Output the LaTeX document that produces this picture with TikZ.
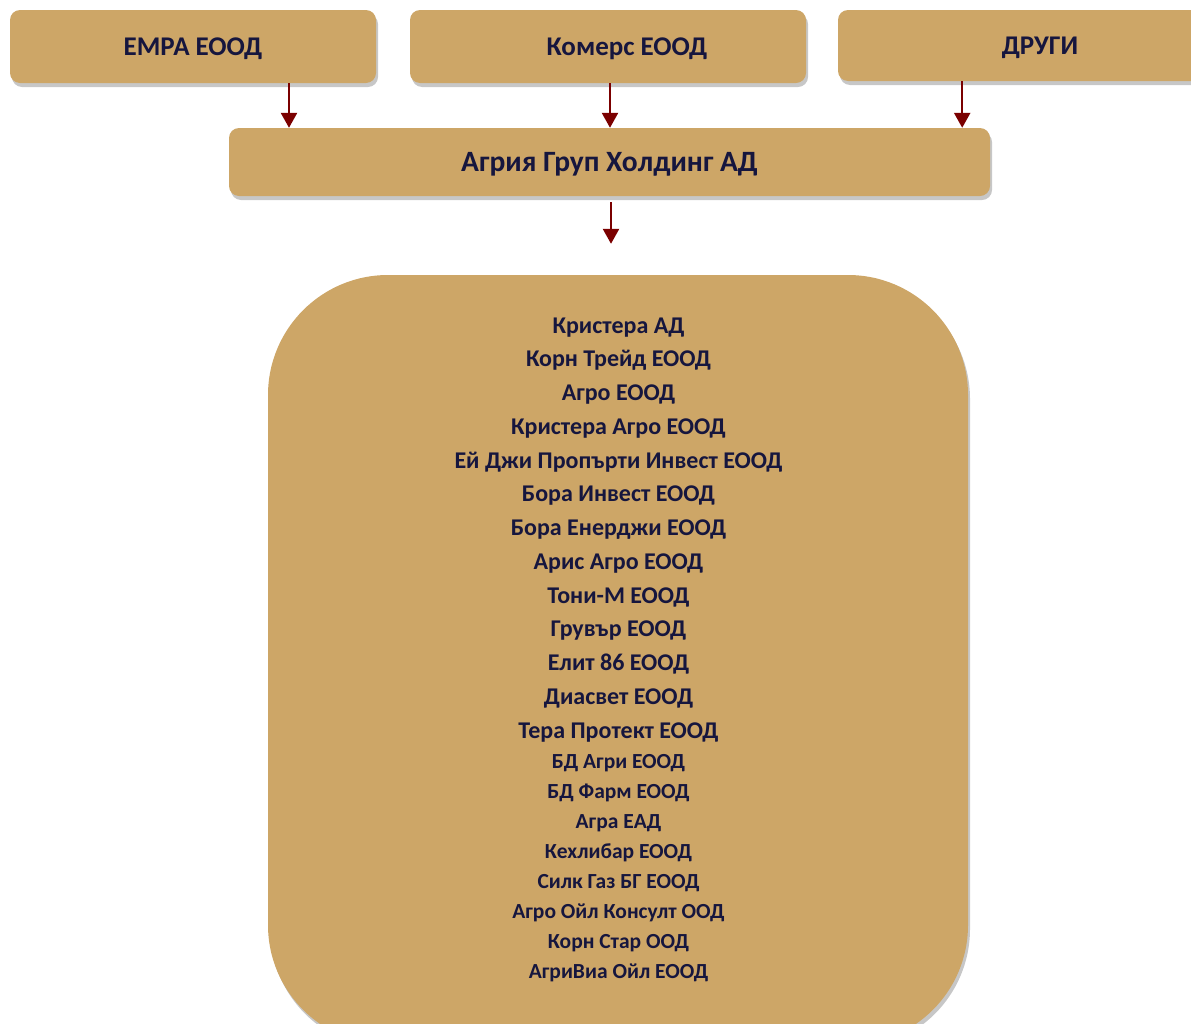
\documentclass[tikz,border=0pt]{standalone}
\usepackage{fontspec}
\setmainfont{Carlito}
\usetikzlibrary{arrows.meta,shadows}
\definecolor{boxfill}{HTML}{CDA667}
\definecolor{navy}{HTML}{16163E}
\definecolor{arrowred}{HTML}{7B0000}

\begin{document}
\begin{tikzpicture}[x=1pt, y=-1pt]
    \tikzset{box/.style={fill=boxfill, rounded corners=10pt, inner sep=0pt, text=navy, text depth=0pt, anchor=center, drop shadow={shadow xshift=2pt, shadow yshift=-4pt, fill=black, opacity=0.22}}}
    \tikzset{topbox/.style={box, minimum height=73pt, text height=17pt, font=\bfseries\fontsize{27}{32}\selectfont}}
    \tikzset{firm/.style={text=navy, anchor=base, inner sep=0pt, font=\bfseries\fontsize{24}{28}\selectfont}}
    \tikzset{smallfirm/.style={firm, font=\bfseries\fontsize{21.5}{26}\selectfont}}
    \tikzset{flow/.style={draw=arrowred, line width=2.5pt, -{Triangle[width=16pt, length=15pt]}}}
    \useasboundingbox (0,0) rectangle (1191,1023);

    \node[topbox, minimum width=366pt] (emra) at (193,46.5) {ЕМРА ЕООД};
    \node[topbox, minimum width=396pt] (komers) at (608,46.5) {\hspace*{38pt}Комерс ЕООД};
    \node[topbox, minimum width=404pt, minimum height=71pt] (drugi) at (1040,45.5) {ДРУГИ};
    \node[box, minimum width=761pt, minimum height=68pt, text height=18pt, font=\bfseries\fontsize{29.5}{34}\selectfont] (holding) at (609.5,162) {Агрия Груп Холдинг АД};
    \node[box, rounded corners=120pt, minimum width=700pt, minimum height=770pt] (group) at (618,660) {};

    \draw[flow] ([xshift=96pt]emra.south) -- ([xshift=96pt]emra.south |- holding.north);
    \draw[flow] ([xshift=2pt]komers.south) -- ([xshift=2pt]komers.south |- holding.north);
    \draw[flow] ([xshift=-28pt]holding.north east |- drugi.south) -- ([xshift=-28pt]holding.north east);
    \draw[flow, shorten <=6pt, shorten >=31pt] ([xshift=1.5pt]holding.south) -- ([xshift=1.5pt]holding.south |- group.north);

    % companies of the group
    \foreach \firmname [count=\i from 0] in {Кристера АД, Корн Трейд ЕООД, Агро ЕООД, Кристера Агро ЕООД, Ей Джи Пропърти Инвест ЕООД, Бора Инвест ЕООД, Бора Енерджи ЕООД, Арис Агро ЕООД, Тони-М ЕООД, Грувър ЕООД, Елит 86 ЕООД, Диасвет ЕООД, Тера Протект ЕООД}{
        \node[firm] (firm\i) at (618.5,333+33.75*\i) {\firmname};
    }
    \foreach \firmname [count=\i from 0] in {БД Агри ЕООД, БД Фарм ЕООД, Агра ЕАД, Кехлибар ЕООД, Силк Газ БГ ЕООД, Агро Ойл Консулт ООД, Корн Стар ООД, АгриВиа Ойл ЕООД}{
        \node[smallfirm] (lowfirm\i) at (618.5,768+30*\i) {\firmname};
    }
\end{tikzpicture}
\end{document}
